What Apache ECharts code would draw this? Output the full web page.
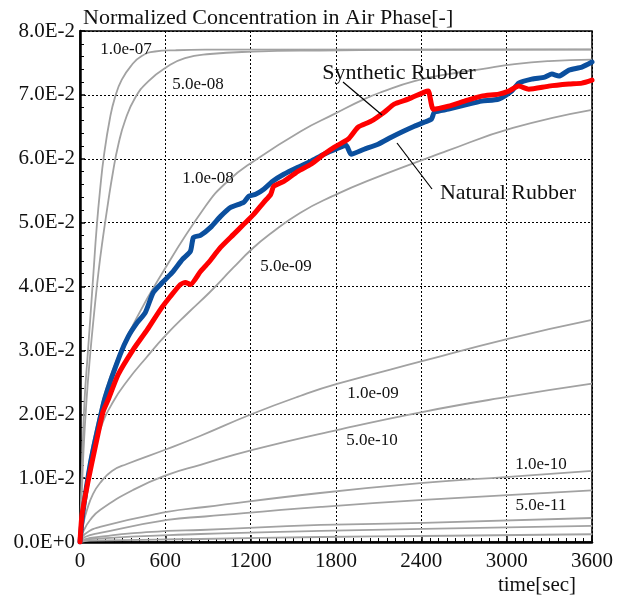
<!DOCTYPE html>
<html><head><meta charset="utf-8">
<script src="https://cdn.jsdelivr.net/npm/echarts@6/dist/echarts.min.js"></script>
<style>html,body{margin:0;padding:0;background:#fff}#c{width:623px;height:596px}</style>
</head><body><div id="c"></div>
<script>
// ---- data ----
const yTickLabels = ['0.0E+0','1.0E-2','2.0E-2','3.0E-2','4.0E-2','5.0E-2','6.0E-2','7.0E-2','8.0E-2'];
const xTickLabels = ['0','600','1200','1800','2400','3000','3600'];

const naturalRubber = [[0,0],[21,0.00471],[71,0.01208],[120,0.01725],[176,0.02259],[282,0.02933],[339,0.03216],[402,0.03435],[459,0.03592],[515,0.03906],[579,0.04063],[649,0.04220],[720,0.04424],[776,0.04549],[798,0.04769],[847,0.04800],[918,0.04925],[988,0.05098],[1059,0.05239],[1151,0.05318],[1186,0.05412],[1235,0.05443],[1292,0.05522],[1355,0.05647],[1433,0.05757],[1532,0.05867],[1624,0.05961],[1715,0.06071],[1814,0.06165],[1871,0.06212],[1906,0.06071],[1998,0.06149],[2096,0.06227],[2188,0.06337],[2259,0.06416],[2351,0.06510],[2421,0.06573],[2471,0.06620],[2492,0.06729],[2591,0.06776],[2732,0.06855],[2824,0.06902],[2944,0.06933],[3035,0.07059],[3085,0.07184],[3176,0.07247],[3268,0.07278],[3318,0.07325],[3367,0.07294],[3438,0.07388],[3529,0.07435],[3600,0.07514]];

const syntheticRubber = [[0,0],[14,0.00424],[56,0.00941],[106,0.01475],[162,0.02039],[198,0.02227],[268,0.02620],[374,0.03012],[473,0.03325],[565,0.03639],[635,0.03843],[706,0.04031],[741,0.04063],[776,0.04031],[847,0.04235],[904,0.04376],[988,0.04612],[1080,0.04816],[1151,0.04973],[1221,0.05129],[1292,0.05318],[1341,0.05443],[1362,0.05569],[1433,0.05647],[1532,0.05804],[1624,0.05914],[1715,0.06071],[1786,0.06180],[1885,0.06306],[1955,0.06494],[2047,0.06588],[2139,0.06729],[2209,0.06855],[2308,0.06933],[2421,0.07043],[2449,0.07059],[2485,0.06776],[2591,0.06824],[2704,0.06902],[2824,0.06980],[2944,0.07012],[3014,0.07059],[3085,0.07137],[3155,0.07090],[3296,0.07137],[3438,0.07169],[3529,0.07184],[3600,0.07231]];

const curve_1e07 = [[0,0],[7,0.00658],[18,0.01440],[32,0.02223],[53,0.02896],[74,0.03554],[95,0.04227],[117,0.04916],[141,0.05511],[169,0.06059],[211,0.06638],[246,0.06961],[293,0.07235],[364,0.07468],[434,0.07609],[527,0.07679],[668,0.07698],[879,0.07707],[3600,0.07711]];
const curve_5e08 = [[0,0],[11,0.00658],[25,0.01440],[46,0.02223],[70,0.02896],[98,0.03554],[130,0.04227],[162,0.04775],[197,0.05307],[232,0.05793],[269,0.06215],[316,0.06591],[387,0.06951],[480,0.07213],[610,0.07437],[738,0.07577],[914,0.07640],[1216,0.07676],[1688,0.07695],[2250,0.07703],[3600,0.07707]];
const curve_1e08 = [[0,0],[21,0.00580],[71,0.01318],[120,0.01835],[176,0.02337],[268,0.02902],[367,0.03373],[551,0.04110],[882,0.05255],[1038,0.05647],[1221,0.05961],[1553,0.06431],[1786,0.06698],[1998,0.06933],[2118,0.07043],[2351,0.07216],[2591,0.07325],[2824,0.07404],[3056,0.07482],[3296,0.07529],[3600,0.07553]];
const curve_5e09 = [[0,0],[28,0.00658],[70,0.01159],[141,0.01753],[232,0.02192],[337,0.02536],[464,0.02881],[605,0.03241],[759,0.03585],[914,0.03914],[1076,0.04290],[1209,0.04587],[1336,0.04822],[1547,0.05152],[1779,0.05418],[2018,0.05651],[2580,0.06122],[3044,0.06482],[3600,0.06766]];
const curve_1e09 = [[0,0],[21,0.00266],[49,0.00501],[91,0.00751],[141,0.00924],[225,0.01112],[330,0.01221],[612,0.01456],[844,0.01660],[1209,0.02004],[1547,0.02286],[1807,0.02474],[2412,0.02834],[3002,0.03178],[3600,0.03476]];
const curve_5e10 = [[0,0],[28,0.00188],[71,0.00345],[141,0.00502],[374,0.00816],[614,0.01051],[847,0.01208],[1214,0.01443],[1814,0.01757],[2414,0.02039],[3014,0.02275],[3600,0.02478]];
const curve_1e10 = [[0,0],[35,0.00125],[141,0.00235],[612,0.00470],[879,0.00548],[1688,0.00767],[2414,0.00925],[3014,0.01020],[3600,0.01114]];
const curve_5e11 = [[0,0],[35,0.00078],[141,0.00141],[614,0.00345],[879,0.00399],[1694,0.00549],[2414,0.00659],[3600,0.00808]];
const curve_1e11 = [[0,0],[71,0.00063],[614,0.00173],[847,0.00188],[1694,0.00267],[2414,0.00298],[3600,0.00376]];
const curve_5e12 = [[0,0],[71,0.00047],[847,0.00125],[1694,0.00173],[2414,0.00204],[3600,0.00251]];
const curve_1e12 = [[0,0],[71,0.00020],[847,0.00047],[1694,0.00078],[2414,0.00094],[3600,0.00121]];

const grayCurves = [curve_1e07, curve_5e08, curve_1e08, curve_5e09, curve_1e09, curve_5e10, curve_1e10, curve_5e11, curve_1e11, curve_5e12, curve_1e12];

// ---- chart ----
const FONT = "'Liberation Serif','Times New Roman',serif";
const chart = echarts.init(document.getElementById('c'), null, {renderer:'canvas'});

const series = grayCurves.map(d => ({
  type:'line', data:d, showSymbol:false, smooth:0.5,
  lineStyle:{color:'#a2a2a2', width:1.8}, z:2, silent:true
}));
series.push({type:'line', name:'Natural Rubber', data:naturalRubber, showSymbol:false, smooth:0.2,
  lineStyle:{color:'#0b4f9e', width:5, cap:'round', join:'round'}, z:3});
series.push({type:'line', name:'Synthetic Rubber', data:syntheticRubber, showSymbol:false, smooth:0.2,
  lineStyle:{color:'#ff0000', width:5, cap:'round', join:'round'}, z:4});

function txt(text, x, y, size, align){
  return {type:'text', x:x, y:y, z:10, style:{text:text, font:size+'px '+FONT, fill:'#111',
    align:align||'center', verticalAlign:'middle'}};
}
function seg(x1,y1,x2,y2){
  return {type:'line', z:10, shape:{x1:x1,y1:y1,x2:x2,y2:y2}, style:{stroke:'#000', lineWidth:1.2}};
}

chart.setOption({
  animation:false,
  backgroundColor:'#fff',
  grid:{left:80, top:31, width:512, height:511, show:true, borderColor:'#000', borderWidth:1.5, backgroundColor:'transparent'},
  xAxis:{type:'value', min:0, max:3600, interval:600,
    axisLine:{show:true, onZero:false, lineStyle:{color:'#000', width:2.5}},
    axisTick:{show:true, inside:true, length:7, lineStyle:{color:'#000', width:1.5}},
    minorTick:{show:true, splitNumber:10, length:4, lineStyle:{color:'#000', width:1}},
    axisLabel:{margin:9, color:'#111', fontFamily:FONT, fontSize:21,
      formatter:(v)=>xTickLabels[Math.round(v/600)]},
    splitLine:{show:true, lineStyle:{color:'#000', width:1, type:[2,2]}}
  },
  yAxis:{type:'value', min:0, max:0.08, interval:0.01,
    axisLine:{show:true, onZero:false, lineStyle:{color:'#000', width:2.5}},
    axisTick:{show:true, inside:true, length:5, lineStyle:{color:'#000', width:1.5}},
    minorTick:{show:true, splitNumber:5, length:4, lineStyle:{color:'#000', width:1}},
    axisLabel:{margin:5, color:'#111', fontFamily:FONT, fontSize:21,
      formatter:(v)=>yTickLabels[Math.round(v/0.01)]},
    splitLine:{show:true, lineStyle:{color:'#000', width:1, type:[2,2]}}
  },
  series:series,
  graphic:[
    txt('Normalized Concentration in Air Phase[-]', 83, 18, 22, 'left'),
    txt('time[sec]', 537, 585, 21),
    txt('1.0e-07', 126, 50, 17),
    txt('5.0e-08', 198, 85, 17),
    txt('1.0e-08', 208, 179, 17),
    txt('5.0e-09', 286, 267, 17),
    txt('1.0e-09', 373, 394, 17),
    txt('5.0e-10', 372, 441, 17),
    txt('1.0e-10', 541, 465, 17),
    txt('5.0e-11', 541, 506, 17),
    txt('Synthetic Rubber', 399, 73, 22),
    txt('Natural Rubber', 508, 193, 22),
    seg(343,82,382,115),
    seg(397,143,432,189)
  ]
});
</script></body></html>
